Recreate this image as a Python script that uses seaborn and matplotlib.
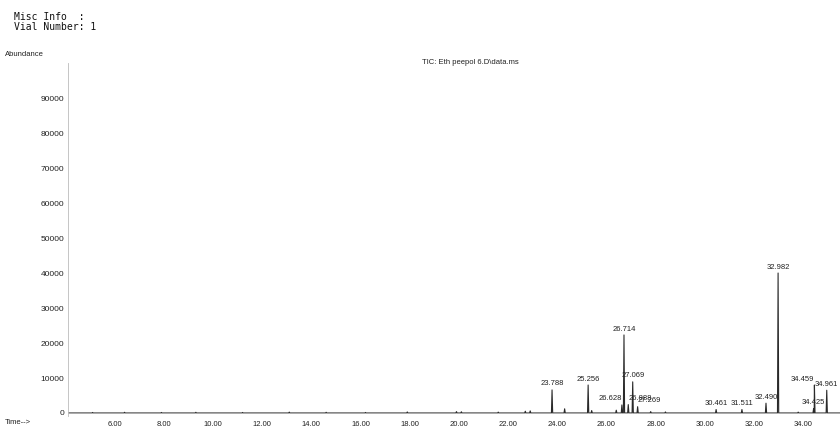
import pandas as pd
import matplotlib.pyplot as plt
import seaborn as sns

# peaks
peak_rt = [23.788, 25.256, 26.628, 26.714, 26.888, 27.069, 27.269,
           30.461, 31.511, 32.490, 32.982, 34.425, 34.459, 34.961]
peak_height = [6600, 8000, 2300, 22300, 2400, 8900, 1800,
               1000, 1000, 2800, 40000, 1200, 8000, 6500]
peak_label = ["23.788", "25.256", "26.628", "26.714", "26.888", "27.069", "27.269",
              "30.461", "31.511", "32.490", "32.982", "34.425", "34.459", "34.961"]
label_align = ["center", "center", "right", "center", "left", "center", "left",
               "center", "center", "center", "center", "center", "right", "center"]

# small unlabelled bumps along the baseline
bump_rt = [5.10, 6.40, 7.90, 9.30, 11.20, 13.10, 14.60, 16.20, 17.90,
           19.90, 20.10, 21.60, 22.70, 22.90, 24.30, 25.40, 26.40, 27.80, 28.40, 33.80]
bump_height = [150, 200, 150, 200, 150, 250, 200, 150, 300,
               400, 350, 250, 500, 600, 1200, 700, 800, 400, 300, 250]

x_ticks = [6, 8, 10, 12, 14, 16, 18, 20, 22, 24, 26, 28, 30, 32, 34]
y_ticks = [0, 10000, 20000, 30000, 40000, 50000, 60000, 70000, 80000, 90000]

# build the trace: each peak is a narrow spike back to the baseline
pts = [(4.1, 0), (35.5, 0)]
for rt, h in zip(peak_rt + bump_rt, peak_height + bump_height):
    pts += [(rt - 0.025, 0), (rt, h), (rt + 0.025, 0)]
trace = pd.DataFrame(sorted(pts), columns=["time", "abundance"])

sns.set_style("white")
plt.rcParams['font.family'] = ['Liberation Sans', 'DejaVu Sans']

fig = plt.figure(figsize=(8.4, 4.3), dpi=100)
ax = fig.add_axes([68 / 840, 0.0314, 772 / 840, 0.822])

sns.lineplot(data=trace, x="time", y="abundance", estimator=None, sort=False,
             color="#2a2a2a", linewidth=0.8, ax=ax)

for rt, h, lab, al in zip(peak_rt, peak_height, peak_label, label_align):
    ax.text(rt, h + 700, lab, ha=al, va="bottom", fontsize=5.5, color="#222222")

ax.set_xlim(4.1, 35.5)
ax.set_ylim(-1000, 100000)
ax.set_xticks(x_ticks)
ax.set_xticklabels([f"{t:.2f}" for t in x_ticks])
ax.set_yticks(y_ticks)
ax.set_yticklabels([str(t) for t in y_ticks])
ax.tick_params(axis="both", colors="#222222", length=1.5, width=0.5)
ax.tick_params(axis="y", labelsize=6, pad=1)
ax.tick_params(axis="x", labelsize=5.5, pad=4)
ax.set_xlabel("")
ax.set_ylabel("")

for s in ["top", "right"]:
    ax.spines[s].set_visible(False)
ax.spines["left"].set_color("#bbbbbb")
ax.spines["left"].set_linewidth(0.6)
ax.spines["bottom"].set_position(("data", 0))
ax.spines["bottom"].set_color("#bbbbbb")
ax.spines["bottom"].set_linewidth(0.5)

fig.text(14 / 840, 1 - 17 / 430, "Misc Info  :", family="DejaVu Sans Mono",
         fontsize=7, va="center", color="#111111")
fig.text(14 / 840, 1 - 27 / 430, "Vial Number: 1", family="DejaVu Sans Mono",
         fontsize=7, va="center", color="#111111")
fig.text(5 / 840, 1 - 55 / 430, "Abundance", fontsize=5.5, va="center", color="#222222")
fig.text(470 / 840, 1 - 63 / 430, "TIC: Eth peepol 6.D\\data.ms", fontsize=5.5,
         ha="center", va="center", color="#222222")
fig.text(5 / 840, 1 - 423 / 430, "Time-->", fontsize=5.5, va="center", color="#222222")

fig.savefig("out.png", dpi=100)
